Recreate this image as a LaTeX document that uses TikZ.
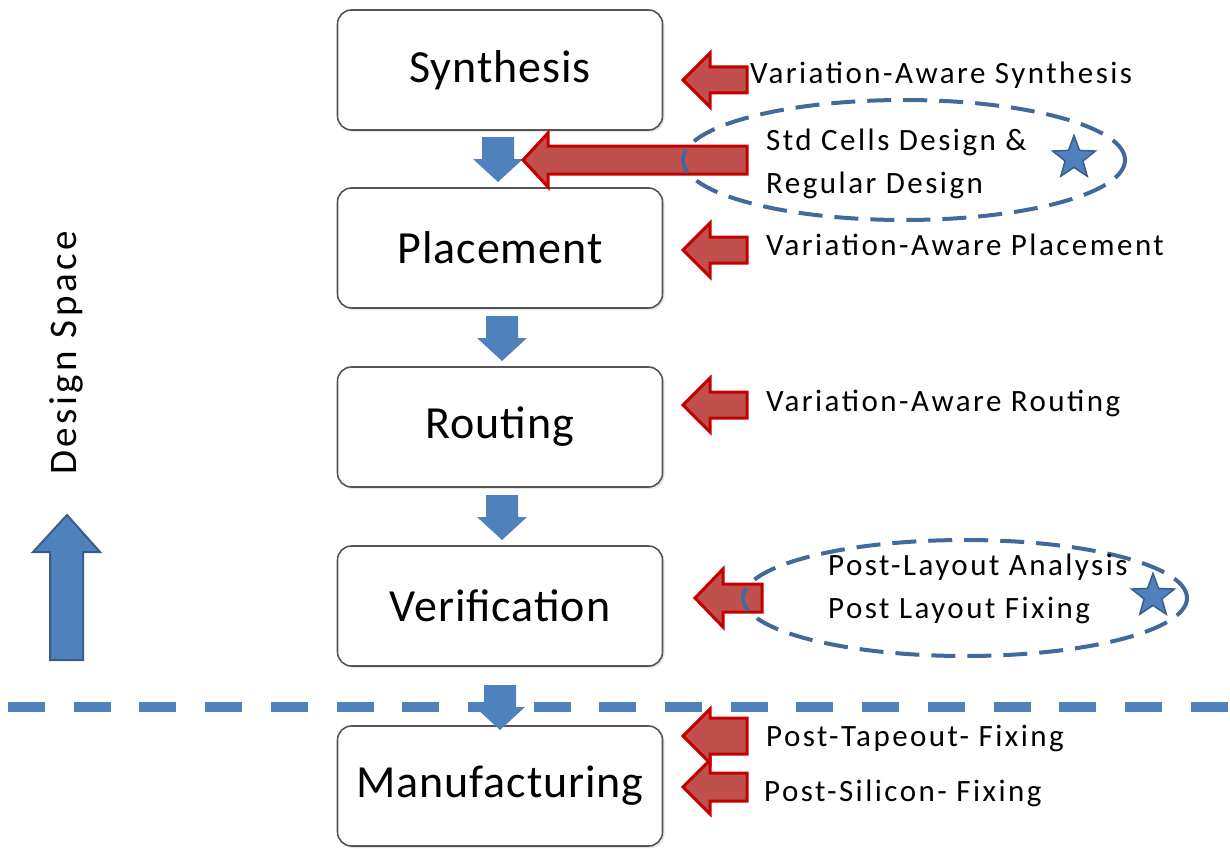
\documentclass[tikz,border=0pt]{standalone}
\usepackage{fontspec}
\setmainfont{Carlito}
\newfontfamily\widefont[LetterSpace=8]{Carlito}
\newfontfamily\dsfont[LetterSpace=9]{Carlito}
\newfontfamily\boxfont[LetterSpace=2]{Carlito}
\usetikzlibrary{shapes.geometric,shadows}
\definecolor{boxline}{RGB}{85,85,85}
\definecolor{bluefill}{RGB}{79,129,189}
\definecolor{blueline}{RGB}{56,93,138}
\definecolor{redfill}{RGB}{192,80,77}
\definecolor{redline}{RGB}{196,0,0}
\definecolor{ellline}{RGB}{65,105,155}
\tikzset{
  stage/.style={draw=boxline, line width=1.6pt, rounded corners=14pt,
    minimum width=325pt, minimum height=120pt, fill=white, inner sep=0pt,
    font=\boxfont\fontsize{46}{50}\selectfont,
    drop shadow={shadow xshift=2pt, shadow yshift=-2pt, opacity=0.2}},
  lbl/.style={anchor=west, inner sep=0pt, font=\widefont\fontsize{31}{36}\selectfont},
  redarr/.style={fill=redfill, draw=redline, line width=3pt, line join=miter},
  bluearr/.style={fill=bluefill, draw=none},
  dashell/.style={draw=ellline, line width=4pt, dash pattern=on 24pt off 12pt},
  bluestar/.style={star, star points=5, star point ratio=2.4, minimum size=45pt,
    inner sep=0pt, fill=bluefill, draw=blueline, line width=1.5pt},
}
% tip x, centre y, head back x, end x, head half height, shaft half height
\newcommand{\redblock}[6]{%
  \draw[redarr] (#1,#2) -- (#3,#2-#5) -- (#3,#2-#6) -- (#4,#2-#6) -- (#4,#2+#6)
    -- (#3,#2+#6) -- (#3,#2+#5) -- cycle;}
% centre x, top y
\newcommand{\blueblock}[2]{%
  \fill[bluearr] (#1-16,#2) -- (#1+16,#2) -- (#1+16,#2+22) -- (#1+25,#2+22)
    -- (#1,#2+45) -- (#1-25,#2+22) -- (#1-16,#2+22) -- cycle;}
\begin{document}
\begin{tikzpicture}[x=1pt,y=-1pt]
\useasboundingbox (0,0) rectangle (1230,848);

% dashed separator
\coordinate (dl) at (8,707);
\coordinate (dr) at (1230,707);
\draw[bluefill, line width=10pt, dash pattern=on 37pt off 28.7pt] (dl) -- (dr);

% stages
\node[stage] (syn) at (500,70) {Synthesis};
\node[stage] (pla) at (500,248) {Placement};
\node[stage] (rou) at (500,427) {Routing};
\node[stage] (ver) at (500,606) {Verification};
\node[stage] (man) at (500,786) {Manufacturing};

% flow arrows
\blueblock{498}{137}
\blueblock{502}{316}
\blueblock{502}{495}
\blueblock{500}{685}

% red arrows
\redblock{683}{80}{710}{747}{27}{13}
\redblock{523}{160}{548}{747}{27}{14}
\redblock{683}{250}{710}{747}{27}{13}
\redblock{683}{405}{710}{747}{27}{13}
\redblock{695}{598}{723}{762}{29}{14}
\redblock{683}{736}{710}{747}{27}{18}
\redblock{683}{787}{710}{747}{27}{14}

% ellipses
\node[dashell, ellipse, minimum width=442pt, minimum height=120pt] (e1) at (904,160) {};
\node[dashell, ellipse, minimum width=444pt, minimum height=116pt] (e2) at (965,598) {};
\node[bluestar] (s1) at (1074,158) {};
\node[bluestar] (s2) at (1153,596) {};

% labels
\node[lbl] (l1) at (750,75) {Variation-Aware Synthesis};
\node[lbl] (l2) at (766,142) {Std Cells Design \&};
\node[lbl] (l3) at (766,185) {Regular Design};
\node[lbl] (l4) at (766,245) {Variation-Aware Placement};
\node[lbl] (l5) at (766,403) {Variation-Aware Routing};
\node[lbl] (l6) at (828,567) {Post-Layout Analysis};
\node[lbl] (l7) at (828,610) {Post Layout Fixing};
\node[lbl] (l8) at (766,738) {Post-Tapeout- Fixing};
\node[lbl] (l9) at (764,793) {Post-Silicon- Fixing};

% design space
\node[rotate=90, inner sep=0pt, font=\dsfont\fontsize{39}{44}\selectfont] (ds) at (66,353) {Design Space};
\draw[fill=bluefill, draw=blueline, line width=2pt, line join=miter]
  (67,515) -- (100,552) -- (83,552) -- (83,660) -- (50,660) -- (50,552) -- (33,552) -- cycle;
\end{tikzpicture}
\end{document}
